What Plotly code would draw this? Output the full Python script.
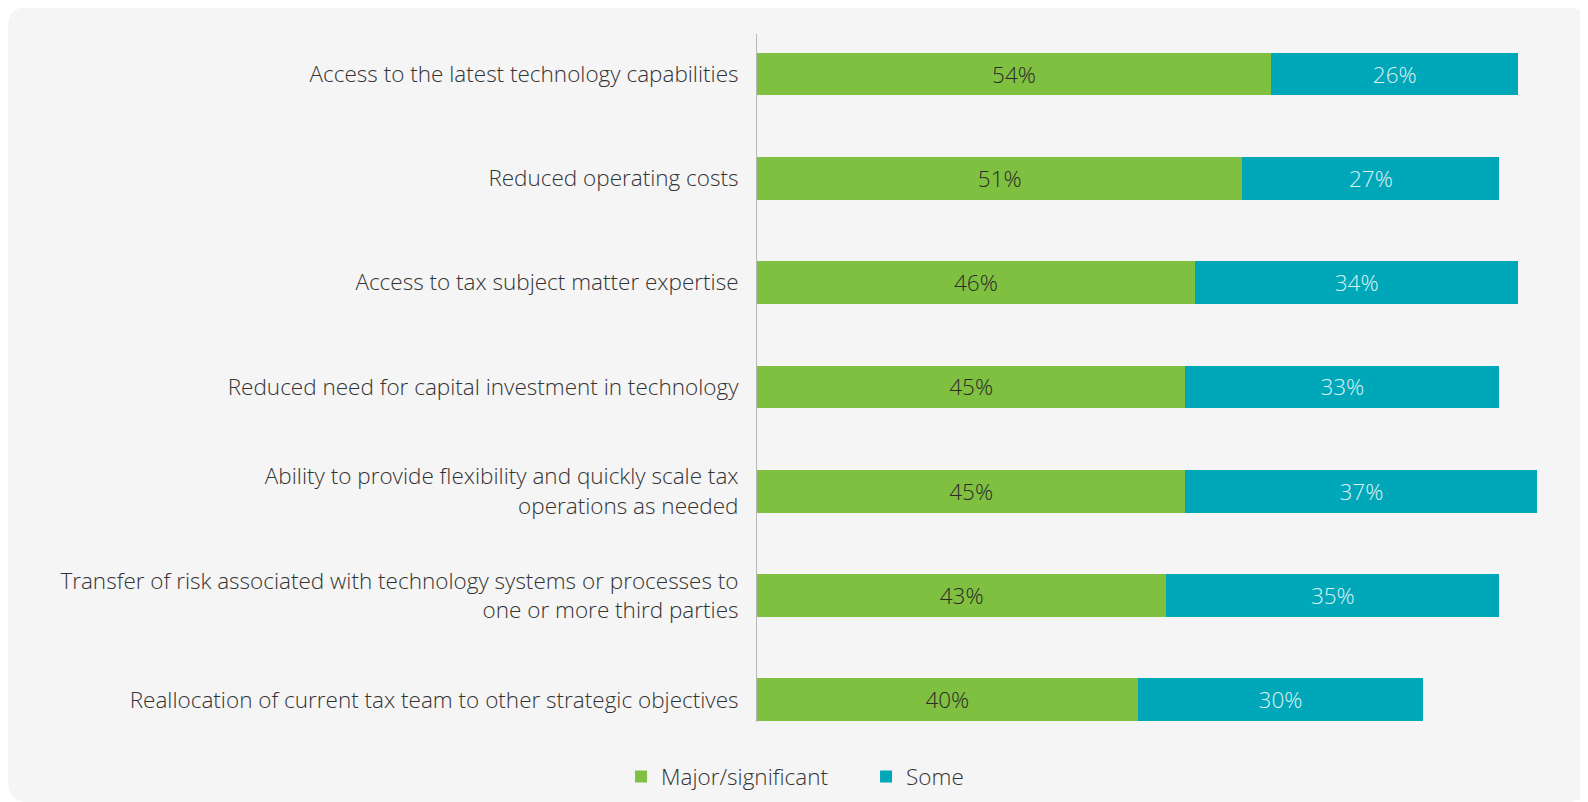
import plotly.graph_objects as go

categories = [
    "Access to the latest technology capabilities",
    "Reduced operating costs",
    "Access to tax subject matter expertise",
    "Reduced need for capital investment in technology",
    "Ability to provide flexibility and quickly scale tax<br>operations as needed",
    "Transfer of risk associated with technology systems or processes to<br>one or more third parties",
    "Reallocation of current tax team to other strategic objectives",
]
major = [54, 51, 46, 45, 45, 43, 40]
some = [26, 27, 34, 33, 37, 35, 30]
series_names = ["Major/significant", "Some"]

GREEN = "#80c041"
TEAL = "#00a7b9"
FONT = "Open Sans"
FS = 22.5

W, H = 1580, 794
ML, MR, MT, MB = 749, 41, 26, 80
PW, PH = W - ML - MR, H - MT - MB


def px(x):
    return (x - ML) / PW


def py(y):
    return (H - MB - y) / PH


fig = go.Figure()
fig.add_trace(go.Bar(
    y=categories, x=major, name=series_names[0], orientation="h",
    marker=dict(color=GREEN, line=dict(width=0)), width=0.41,
    texttemplate="%{x}%", textposition="inside", insidetextanchor="middle",
    textangle=0,
    textfont=dict(family=FONT, size=FS, color="#2b2b2b", weight=300),
))
fig.add_trace(go.Bar(
    y=categories, x=some, name=series_names[1], orientation="h",
    marker=dict(color=TEAL, line=dict(width=0)), width=0.41,
    texttemplate="%{x}%", textposition="inside", insidetextanchor="middle",
    textangle=0,
    textfont=dict(family=FONT, size=FS, color="#dcf1f4", weight=300),
))

# rounded light-grey panel
x0, x1, y0, y1, r = 0, 1579, -1, 794, 20
rx, ry = r / PW, r / PH
path = (
    f"M{px(x0)+rx},{py(y0)} L{px(x1)-rx},{py(y0)} Q{px(x1)},{py(y0)} {px(x1)},{py(y0)-ry} "
    f"L{px(x1)},{py(y1)+ry} Q{px(x1)},{py(y1)} {px(x1)-rx},{py(y1)} "
    f"L{px(x0)+rx},{py(y1)} Q{px(x0)},{py(y1)} {px(x0)},{py(y1)+ry} "
    f"L{px(x0)},{py(y0)-ry} Q{px(x0)},{py(y0)} {px(x0)+rx},{py(y0)} Z"
)
fig.add_shape(type="path", path=path, xref="paper", yref="paper",
              fillcolor="#f5f5f5", line=dict(width=0), layer="below")

fig.update_layout(
    width=W, height=H,
    margin=dict(l=ML, r=MR, t=MT, b=MB, autoexpand=False),
    paper_bgcolor="white", plot_bgcolor="rgba(0,0,0,0)",
    barmode="stack",
    font=dict(family=FONT, size=FS, color="#333333", weight=300),
    xaxis=dict(range=[0, 83], visible=False, fixedrange=True),
    yaxis=dict(
        autorange=False, range=[6.213, -0.3835], type="category",
        showline=True, linecolor="#b8b8b8", linewidth=1,
        showgrid=False, zeroline=False, ticks="",
        ticklabelstandoff=13,
        tickfont=dict(family=FONT, size=FS, color="#333333", weight=300),
    ),
    legend=dict(
        orientation="h", xref="container", yref="container",
        x=0.388, xanchor="left", y=0.0315, yanchor="middle",
        font=dict(family=FONT, size=FS, color="#333333", weight=300),
        bgcolor="rgba(0,0,0,0)", traceorder="normal",
        entrywidth=200,
    ),
    showlegend=True,
)

fig.write_html("out.html")
